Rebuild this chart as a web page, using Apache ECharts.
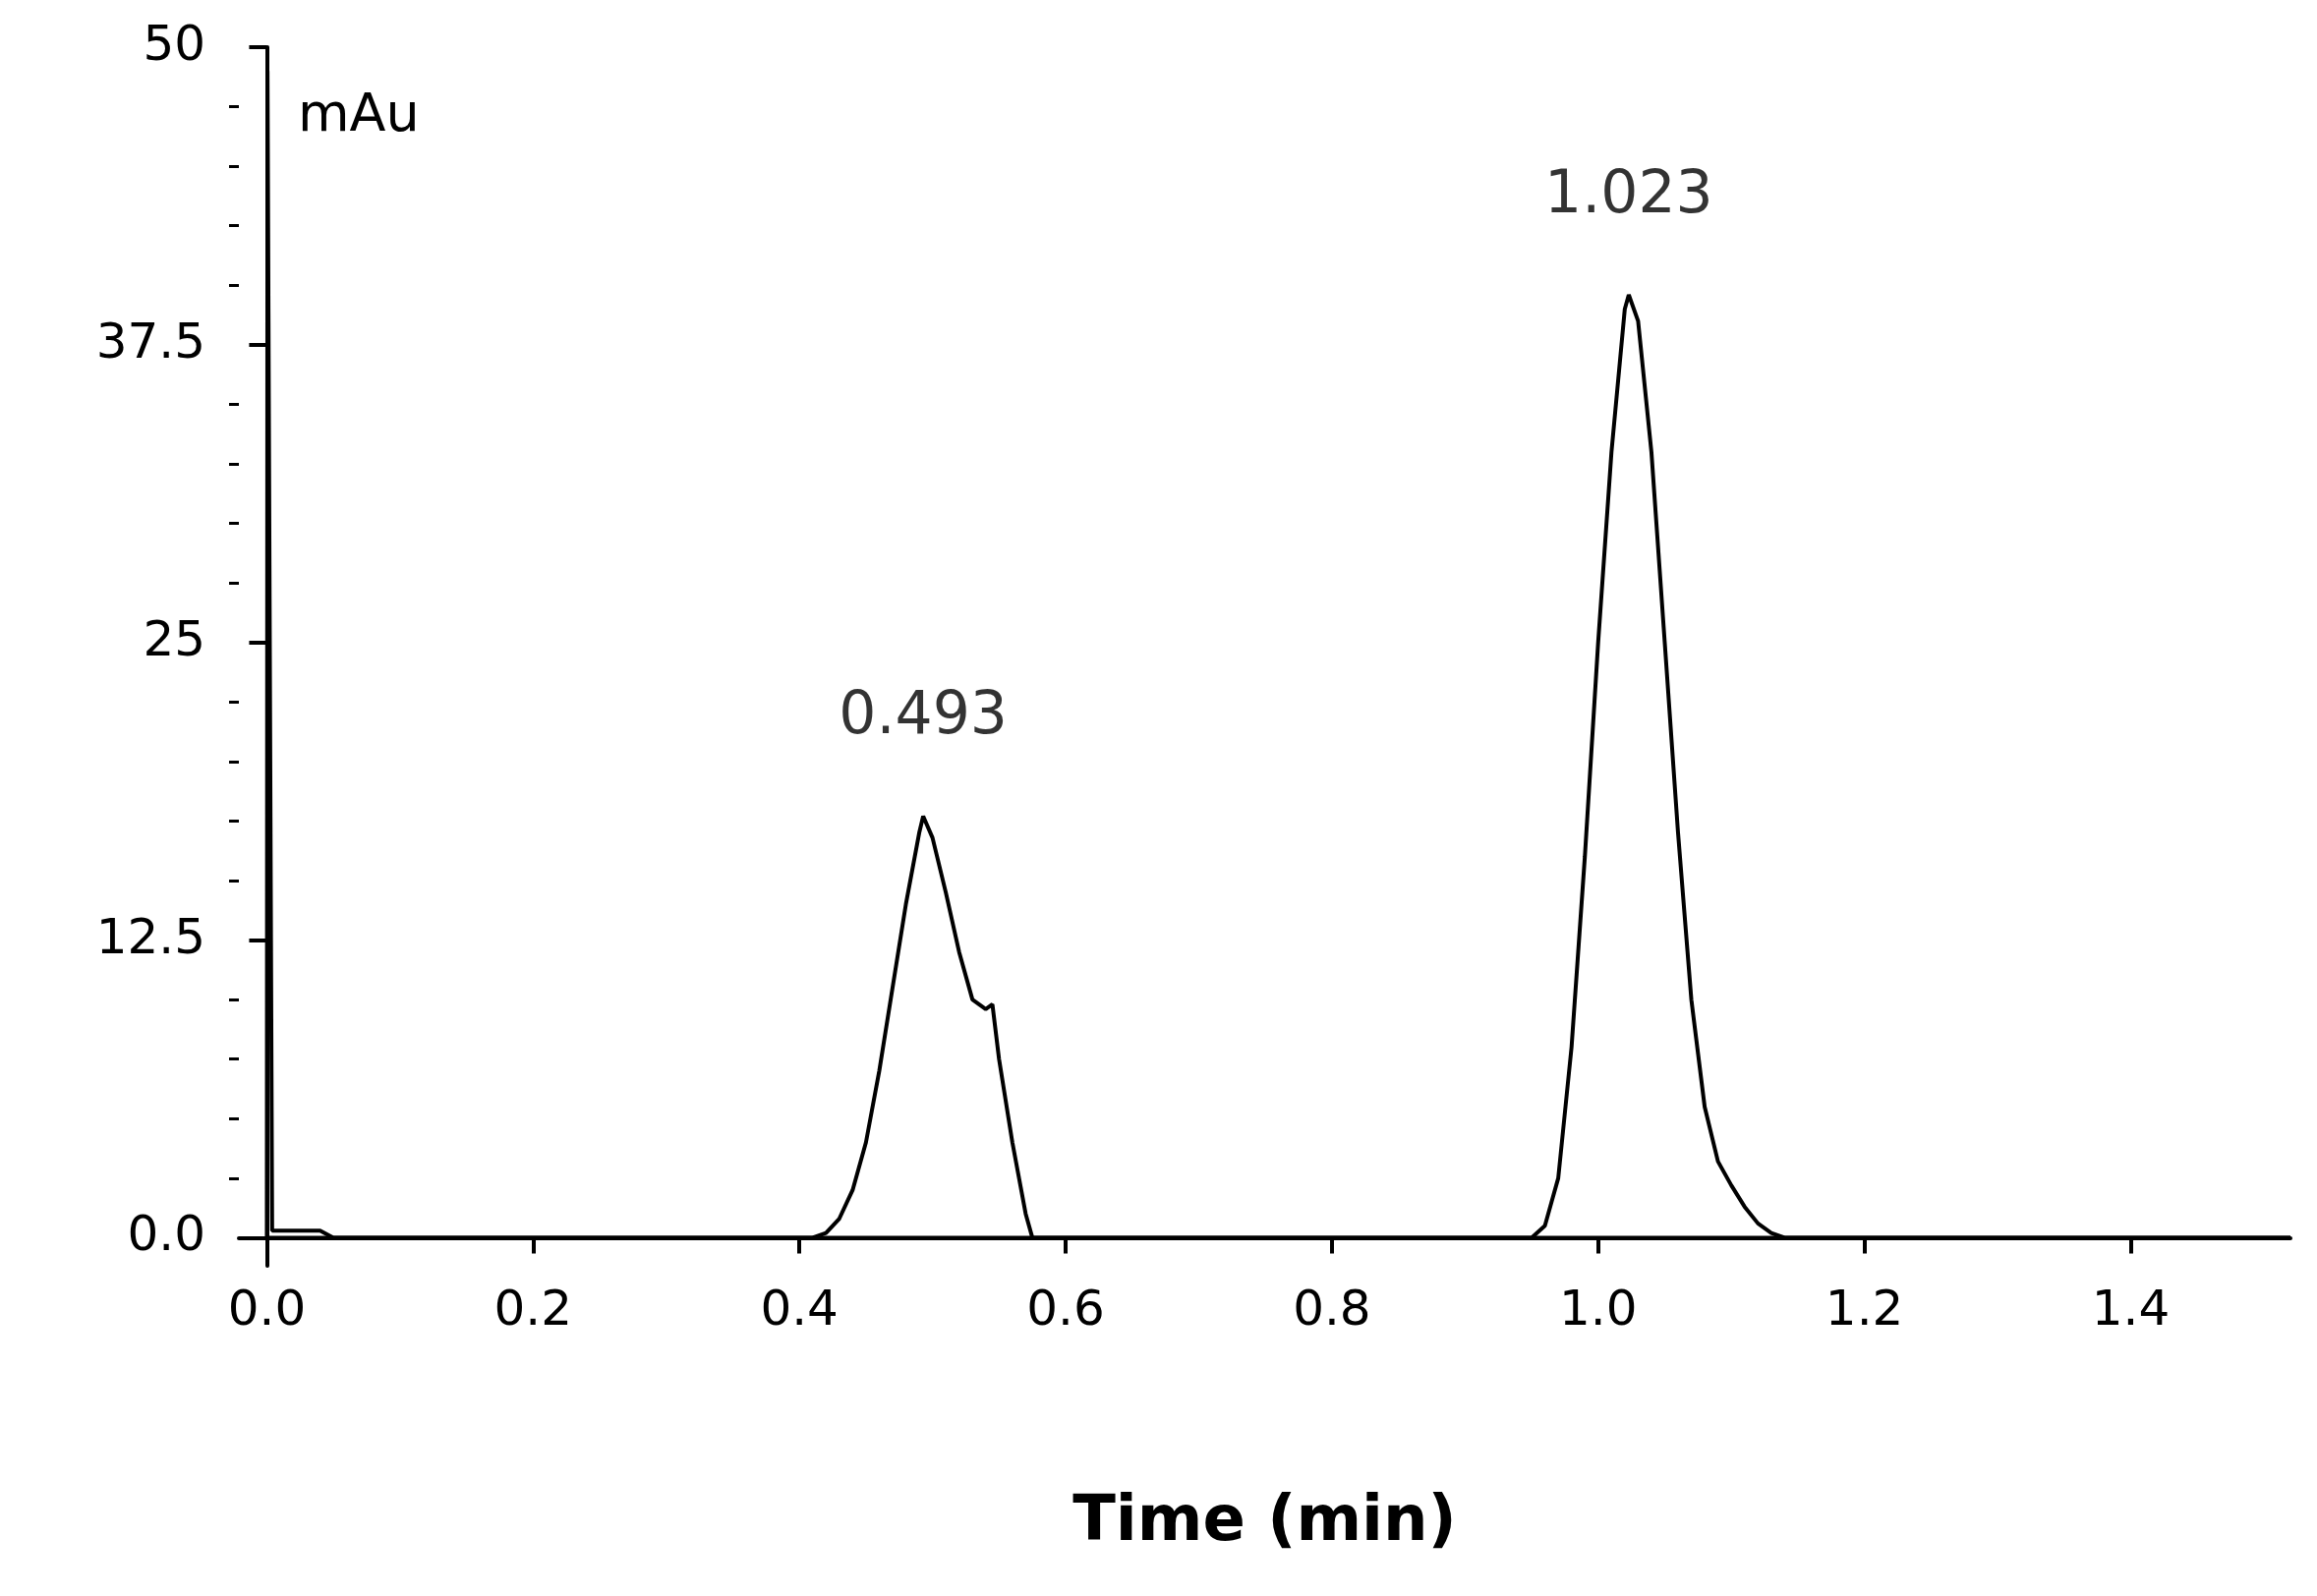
<!DOCTYPE html>
<html><head><meta charset="utf-8">
<script src="https://cdn.jsdelivr.net/npm/echarts@6/dist/echarts.min.js"></script>
<style>html,body{margin:0;padding:0;background:#fff}#c{width:2357px;height:1624px}</style>
</head><body><div id="c"></div>
<script>
const timeMin = [0.0,0.0005,0.004,0.04,0.05,0.41,0.42,0.43,0.44,0.45,0.46,0.47,0.48,0.49,0.493,0.50,0.51,0.52,0.53,0.54,0.545,0.55,0.56,0.57,0.575,0.95,0.96,0.965,0.97,0.98,0.99,1.00,1.01,1.02,1.023,1.03,1.04,1.05,1.06,1.07,1.08,1.09,1.10,1.11,1.12,1.13,1.14,1.52];
const absorbance = [0,49,0.3,0.3,0,0,0.2,0.8,2.0,4.0,7.0,10.5,14.0,17.0,17.7,16.8,14.5,12.0,10.0,9.6,9.8,7.5,4.0,1.0,0,0,0.5,1.5,2.5,8,16,25,33,39,39.6,38.5,33,25,17,10,5.5,3.2,2.2,1.3,0.6,0.2,0,0];
const peakLabels = [[0.493,17.7,'0.493'],[1.023,39.6,'1.023']];
const yTickVals = [0,12.5,25,37.5,50];
const yTickText = ['0.0','12.5','25','37.5','50'];
const xTickVals = [0,0.2,0.4,0.6,0.8,1.0,1.2,1.4];
const yMinorVals = [2.5,5,7.5,10,15,17.5,20,22.5,27.5,30,32.5,35,40,42.5,45,47.5];

const chart = echarts.init(document.getElementById('c'));
const txt = {color:'#000',fontFamily:'DejaVu Sans',fontSize:50};
chart.setOption({
  animation:false,
  grid:{left:243,top:48,width:2087,height:1240},
  xAxis:{type:'value',min:-0.021,max:1.52,
    axisLine:{show:true,lineStyle:{color:'#000',width:4}},
    axisTick:{show:true,length:16,customValues:xTickVals,lineStyle:{color:'#000',width:4}},
    splitLine:{show:false},
    axisLabel:Object.assign({},txt,{margin:22,customValues:xTickVals,formatter:v=>v.toFixed(1)}),
    name:'Time (min)',nameLocation:'middle',nameGap:230,
    nameTextStyle:{color:'#000',fontFamily:'DejaVu Sans',fontSize:64,fontWeight:'bold'}},
  yAxis:[{type:'value',min:-1.18,max:50,
    axisLine:{show:true,lineStyle:{color:'#000',width:4}},
    axisTick:{show:true,length:18,customValues:yTickVals,lineStyle:{color:'#000',width:4}},
    splitLine:{show:false},
    axisLabel:Object.assign({},txt,{margin:34,customValues:yTickVals,formatter:v=>yTickText[yTickVals.indexOf(v)]})},
   {type:'value',min:-1.18,max:50,position:'left',
    axisLine:{show:false},
    axisTick:{show:true,length:10,customValues:yMinorVals,lineStyle:{color:'#000',width:3}},
    splitLine:{show:false},axisLabel:{show:false}}],
  series:[
    {type:'line',data:timeMin.map((t,i)=>[t,absorbance[i]]),showSymbol:false,
     lineStyle:{color:'#000',width:4},z:3},
    {type:'line',data:[[0,0],[1.52,0]],showSymbol:false,lineStyle:{color:'#000',width:4},z:2},
    {type:'scatter',data:peakLabels.map(p=>[p[0],p[1]]),symbolSize:0,
     label:{show:true,position:'top',distance:70,formatter:p=>peakLabels[p.dataIndex][2],color:'#000',fontFamily:'DejaVu Sans',fontSize:60}}
  ],
  graphic:[{type:'text',left:303,top:92,style:{text:'mAu',fill:'#000',font:'54px DejaVu Sans'}}]
});
</script></body></html>
